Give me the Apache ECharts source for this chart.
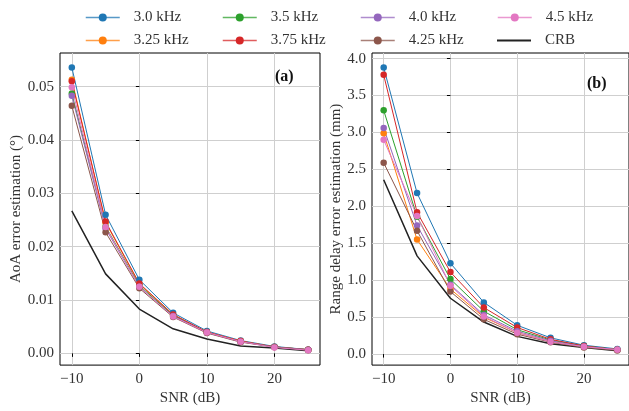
<!DOCTYPE html>
<html>
<head>
<meta charset="utf-8">
<script src="https://cdn.jsdelivr.net/npm/echarts@6.0.0/dist/echarts.min.js"></script>
<style>
  html, body { margin: 0; padding: 0; background: #fff; }
  #chart { width: 629px; height: 411px; }
</style>
</head>
<body>
<div id="chart"></div>
<script>
var snr = [-10, -5, 0, 5, 10, 15, 20, 25];
var names = ['3.0 kHz', '3.25 kHz', '3.5 kHz', '3.75 kHz', '4.0 kHz', '4.25 kHz', '4.5 kHz', 'CRB'];
var colors = ['#1f77b4', '#ff7f0e', '#2ca02c', '#d62728', '#9467bd', '#8c564b', '#e377c2', '#222222'];

// (a) AoA error, degrees
var aoa30 = [0.0536, 0.0260, 0.0138, 0.0076, 0.0042, 0.0024, 0.0013, 0.0007];
var aoa325 = [0.0513, 0.0245, 0.0130, 0.0072, 0.0040, 0.0023, 0.0012, 0.0007];
var aoa35 = [0.0487, 0.0238, 0.0127, 0.0071, 0.0039, 0.0022, 0.0012, 0.0007];
var aoa375 = [0.0510, 0.0247, 0.0131, 0.0073, 0.0040, 0.0023, 0.0012, 0.0007];
var aoa40 = [0.0483, 0.0234, 0.0125, 0.0070, 0.0039, 0.0022, 0.0012, 0.0007];
var aoa425 = [0.0464, 0.0227, 0.0122, 0.0068, 0.0038, 0.0021, 0.0012, 0.0006];
var aoa45 = [0.0499, 0.0237, 0.0125, 0.0069, 0.0039, 0.0022, 0.0011, 0.0006];
var aoaCrb = [0.0267, 0.0149, 0.0083, 0.0046, 0.0027, 0.0014, 0.0010, 0.0005];

// (b) range delay error, mm
var rng30 = [3.88, 2.18, 1.23, 0.70, 0.39, 0.22, 0.12, 0.07];
var rng325 = [2.99, 1.55, 0.88, 0.50, 0.29, 0.17, 0.10, 0.06];
var rng35 = [3.30, 1.86, 1.015, 0.58, 0.33, 0.19, 0.11, 0.06];
var rng375 = [3.78, 1.92, 1.11, 0.63, 0.36, 0.20, 0.11, 0.06];
var rng40 = [3.06, 1.74, 0.94, 0.53, 0.31, 0.18, 0.10, 0.06];
var rng425 = [2.59, 1.67, 0.846, 0.47, 0.27, 0.16, 0.09, 0.05];
var rng45 = [2.90, 1.87, 0.926, 0.51, 0.29, 0.166, 0.10, 0.06];
var rngCrb = [2.36, 1.33, 0.756, 0.434, 0.24, 0.14, 0.09, 0.045];

var xTicks = [-10, 0, 10, 20];
var aoaTicks = [0, 0.01, 0.02, 0.03, 0.04, 0.05];
var rngTicks = [0, 0.5, 1.0, 1.5, 2.0, 2.5, 3.0, 3.5, 4.0];

var aoaData = [aoa30, aoa325, aoa35, aoa375, aoa40, aoa425, aoa45, aoaCrb];
var rngData = [rng30, rng325, rng35, rng375, rng40, rng425, rng45, rngCrb];

var font = 'Liberation Serif';
var textColor = '#333';

function xAxisFor(idx) {
    return {
        type: 'value',
        gridIndex: idx,
        min: -11.75,
        max: 26.75,
        name: 'SNR (dB)',
        nameLocation: 'middle',
        nameGap: 22,
        nameTextStyle: {fontFamily: font, fontSize: 15, color: textColor},
        axisLine: {show: false},
        axisTick: {show: true, length: 3.5, lineStyle: {color: '#000'}, customValues: xTicks},
        axisLabel: {
            customValues: xTicks,
            margin: 6,
            fontFamily: font, fontSize: 15, color: textColor,
            formatter: function(v) { return v < 0 ? '\u2212' + Math.abs(v) : '' + v; }
        },
        splitLine: {show: true, lineStyle: {color: '#cfcfcf', width: 1}}
    };
}

function yAxisFor(idx, min, max, ticks, digits, name, gap) {
    return {
        type: 'value',
        gridIndex: idx,
        min: min,
        max: max,
        name: name,
        nameLocation: 'middle',
        nameGap: gap,
        nameTextStyle: {fontFamily: font, fontSize: 15, color: textColor},
        axisLine: {show: false},
        axisTick: {show: true, length: 3.5, lineStyle: {color: '#000'}, customValues: ticks},
        axisLabel: {
            customValues: ticks,
            margin: 6,
            fontFamily: font, fontSize: 15, color: textColor,
            formatter: function(v) { return v.toFixed(digits); }
        },
        splitLine: {show: true, lineStyle: {color: '#cfcfcf', width: 1}}
    };
}

var series = [];
var panels = [aoaData, rngData];
panels.forEach(function(panel, p) {
    panel.forEach(function(vals, i) {
        var isCrb = names[i] === 'CRB';
        series.push({
            name: names[i],
            type: 'line',
            xAxisIndex: p,
            yAxisIndex: p,
            data: snr.map(function(x, k) { return [x, vals[k]]; }),
            symbol: isCrb ? 'none' : 'circle',
            symbolSize: 6.5,
            lineStyle: {width: isCrb ? 1.5 : 1, color: colors[i]},
            itemStyle: {color: colors[i]},
            emphasis: {disabled: true},
            z: isCrb ? 1 : 2
        });
    });
});

// legend laid out column by column, like matplotlib ncol=4
var legendCols = [80, 217, 355, 492];
var legendRows = [5, 28];
var legends = names.map(function(n, i) {
    var isCrb = n === 'CRB';
    return {
        data: [isCrb ? {name: n, icon: 'rect'} : n],
        left: legendCols[Math.floor(i / 2)],
        top: legendRows[i % 2],
        itemWidth: 34,
        itemHeight: isCrb ? 2 : 10,
        lineStyle: {width: 1.5, opacity: 0.75},
        textStyle: {fontFamily: font, fontSize: 15, color: textColor, padding: [0, 0, 0, 9]},
        selectedMode: false
    };
});

var myChart = echarts.init(document.getElementById('chart'));
var option = {
    animation: false,
    backgroundColor: '#fff',
    legend: legends,
    grid: [
        {left: 60, right: 309, top: 53, bottom: 42.5, show: true, borderColor: '#000', borderWidth: 1, containLabel: false},
        {left: 372, right: -3, top: 53, bottom: 42.5, show: true, borderColor: '#000', borderWidth: 1, containLabel: false}
    ],
    xAxis: [xAxisFor(0), xAxisFor(1)],
    yAxis: [
        yAxisFor(0, -0.0022, 0.0563, aoaTicks, 2, 'AoA error estimation (\u00b0)', 36),
        yAxisFor(1, -0.149, 4.076, rngTicks, 1, 'Range delay error estimation (mm)', 22)
    ],
    graphic: [
        {type: 'text', left: 275, top: 69, style: {text: '(a)', font: 'bold 16px "Liberation Serif"', fill: '#111'}},
        {type: 'text', left: 587, top: 76, style: {text: '(b)', font: 'bold 16px "Liberation Serif"', fill: '#111'}}
    ],
    series: series
};
myChart.setOption(option);
</script>
</body>
</html>
